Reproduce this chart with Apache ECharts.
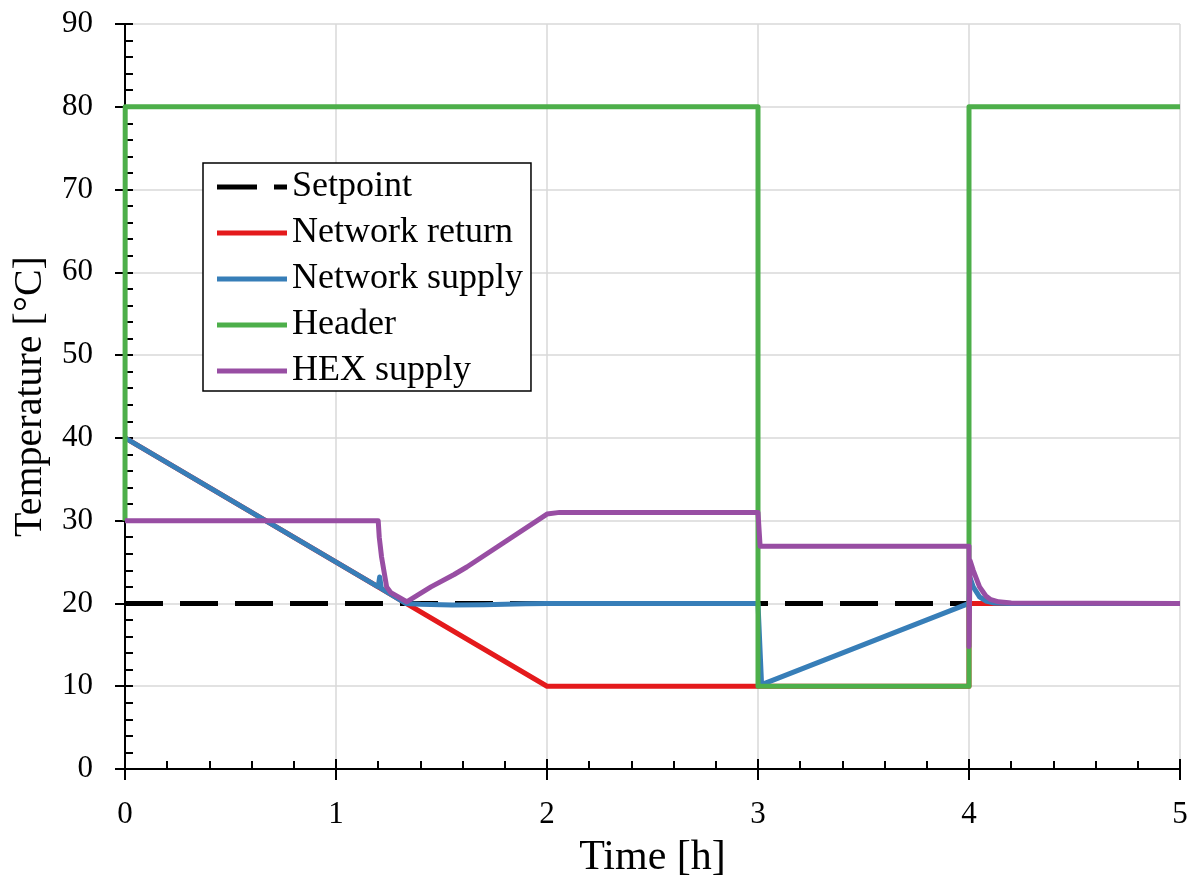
<!DOCTYPE html>
<html>
<head>
<meta charset="utf-8">
<script src="https://cdn.jsdelivr.net/npm/echarts@6/dist/echarts.min.js"></script>
<style>html,body{margin:0;padding:0;background:#fff}#c{width:1193px;height:886px}</style>
</head>
<body>
<div id="c"></div>
<script>
const xTicks = [0, 1, 2, 3, 4, 5];
const yTicks = [0, 10, 20, 30, 40, 50, 60, 70, 80, 90];
const seriesNames = ['Setpoint', 'Network return', 'Network supply', 'Header', 'HEX supply'];
const setpoint = [[0, 20], [5, 20]];
const networkReturn = [[0, 40], [2, 10], [4, 10], [4, 20], [5, 20]];
const networkSupply = [[0, 40], [1.2, 22], [1.207, 23.2], [1.215, 21.8], [1.33, 20.0], [1.4, 19.9], [1.55, 19.8], [1.7, 19.85], [1.9, 19.95], [2.0, 20], [3.0, 20], [3.017, 10.2], [4.0, 20], [4.004, 23.2], [4.02, 22.0], [4.05, 20.8], [4.08, 20.3], [4.12, 20.05], [4.2, 20], [5, 20]];
const header = [[0, 30], [0.001, 80], [3, 80], [3, 10], [4, 10], [4, 80], [5, 80]];
const hexSupply = [[0, 30], [1.2, 30], [1.205, 28], [1.216, 25.6], [1.24, 22.0], [1.26, 21.3], [1.335, 20.2], [1.45, 22.0], [1.56, 23.5], [1.62, 24.4], [2.0, 30.8], [2.06, 31.0], [3.0, 31.0], [3.01, 26.9], [4.0, 26.9], [4.0, 14.8], [4.005, 25.2], [4.02, 24.0], [4.05, 22.0], [4.08, 20.9], [4.1, 20.5], [4.14, 20.2], [4.2, 20.05], [5, 20]];
const colors = ['#000000', '#e41a1c', '#377eb8', '#4daf4a', '#984ea3'];

const FONT = 'Liberation Serif';
const xMin = xTicks[0], xMax = xTicks[xTicks.length - 1];
const yMin = yTicks[0], yMax = yTicks[yTicks.length - 1];

const chart = echarts.init(document.getElementById('c'), null, {renderer: 'canvas'});
const baseX = {type: 'value', min: xMin, max: xMax, interval: 1};
const baseY = {type: 'value', min: yMin, max: yMax, interval: 10};
const datasets = [setpoint, networkReturn, networkSupply, header, hexSupply];

chart.setOption({
  animation: false,
  backgroundColor: '#fff',
  grid: {left: 125, right: 13, top: 24, bottom: 117},
  legend: {
    orient: 'vertical', left: 203, top: 163,
    backgroundColor: '#fff', borderColor: '#000', borderWidth: 1.5,
    padding: [4, 8, 0, 14], itemGap: 6, itemWidth: 70, itemHeight: 5,
    icon: 'path://M0,0 L70,0 L70,5 L0,5 Z',
    textStyle: {fontFamily: FONT, fontSize: 36, color: '#000', lineHeight: 40, padding: [0, 0, 0, 0]},
    data: seriesNames.map((n, i) => i === 0 ? {name: n, icon: 'path://M0,0 L40,0 L40,5 L0,5 Z M57,0 L70,0 L70,5 L57,5 Z'} : {name: n})
  },
  xAxis: [
    Object.assign({}, baseX, {
      position: 'bottom',
      name: 'Time [h]', nameLocation: 'middle', nameGap: 68,
      nameTextStyle: {fontFamily: FONT, fontSize: 42, color: '#000'},
      axisLine: {show: true, lineStyle: {color: '#000', width: 2}},
      axisTick: {show: true, inside: true, length: 10, lineStyle: {color: '#000', width: 2}},
      minorTick: {show: true, splitNumber: 5, length: 8, lineStyle: {color: '#000', width: 2}},
      axisLabel: {fontFamily: FONT, fontSize: 31, color: '#000', margin: 30},
      splitLine: {show: true, lineStyle: {color: '#d9d9d9', width: 1.5}}
    }),
    Object.assign({}, baseX, {
      position: 'bottom', offset: 0,
      axisLine: {show: false},
      axisTick: {show: true, inside: false, length: 11, lineStyle: {color: '#000', width: 2}},
      axisLabel: {show: false}, splitLine: {show: false}
    }),
    Object.assign({}, baseX, {
      position: 'top',
      axisLine: {show: true, lineStyle: {color: '#000', width: 2}},
      axisTick: {show: false}, axisLabel: {show: false}, splitLine: {show: false}
    })
  ],
  yAxis: [
    Object.assign({}, baseY, {
      position: 'left',
      name: 'Temperature [°C]', nameLocation: 'middle', nameGap: 75,
      nameTextStyle: {fontFamily: FONT, fontSize: 40, color: '#000'},
      axisLine: {show: true, lineStyle: {color: '#000', width: 2}},
      axisTick: {show: true, inside: true, length: 8, lineStyle: {color: '#000', width: 2}},
      minorTick: {show: true, splitNumber: 5, length: 8, lineStyle: {color: '#000', width: 2}},
      axisLabel: {fontFamily: FONT, fontSize: 31, color: '#000', margin: 32},
      splitLine: {show: true, lineStyle: {color: '#d9d9d9', width: 1.5}}
    }),
    Object.assign({}, baseY, {
      position: 'left', offset: 0,
      axisLine: {show: false},
      axisTick: {show: true, inside: false, length: 10, lineStyle: {color: '#000', width: 2}},
      axisLabel: {show: false}, splitLine: {show: false}
    }),
    Object.assign({}, baseY, {
      position: 'right', offset: 0,
      axisLine: {show: true, lineStyle: {color: '#000', width: 2}},
      axisTick: {show: false}, axisLabel: {show: false}, splitLine: {show: false}
    })
  ],
  series: datasets.map((d, i) => ({
    name: seriesNames[i], type: 'line', data: d,
    xAxisIndex: 0, yAxisIndex: 0,
    showSymbol: false, symbol: 'none', clip: true,
    color: colors[i],
    lineStyle: {color: colors[i], width: 5, type: i === 0 ? [38, 17] : 'solid', join: 'round'},
    itemStyle: {color: colors[i]},
    z: 2 + i
  }))
});
</script>
</body>
</html>
